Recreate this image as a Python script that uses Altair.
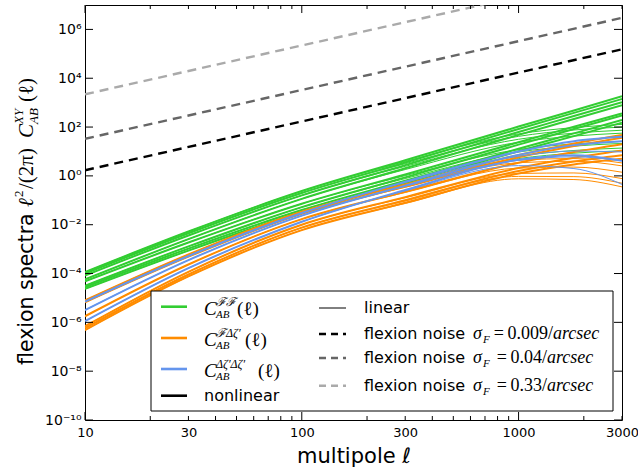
import altair as alt
import pandas as pd

# ---------------- data (log10 of l^2/(2pi) C(l)) ----------------
ELL = [10, 30, 100, 300, 1000, 1800, 3000]

GREEN_NL = [
    [-3.94, -2.28, -0.62, 0.64, 2.02, 2.68, 3.26],
    [-4.00, -2.35, -0.70, 0.55, 1.92, 2.58, 3.15],
    [-4.08, -2.44, -0.80, 0.44, 1.80, 2.45, 3.02],
    [-4.24, -2.59, -0.94, 0.31, 1.68, 2.33, 2.90],
    [-4.32, -2.73, -1.14, 0.06, 1.38, 2.01, 2.56],
    [-4.50, -2.89, -1.28, -0.06, 1.28, 1.92, 2.48],
    [-4.56, -2.98, -1.40, -0.20, 1.11, 1.74, 2.29],
    [-4.63, -3.06, -1.49, -0.30, 1.01, 1.63, 2.18],
]
GREEN_L = [
    [-3.94, -2.28, -0.62, 0.59, 1.72, 1.98, 2.11],
    [-4.00, -2.35, -0.70, 0.50, 1.62, 1.88, 2.00],
    [-4.08, -2.44, -0.80, 0.39, 1.50, 1.75, 1.87],
    [-4.24, -2.59, -0.94, 0.26, 1.38, 1.63, 1.75],
    [-4.32, -2.73, -1.14, 0.01, 1.08, 1.31, 1.41],
    [-4.50, -2.89, -1.28, -0.11, 0.98, 1.22, 1.33],
    [-4.56, -2.98, -1.40, -0.25, 0.81, 1.04, 1.14],
    [-4.63, -3.06, -1.49, -0.35, 0.71, 0.93, 1.03],
]
ORANGE_NL = [
    [-5.10, -3.22, -1.47, -0.35, 0.86, 1.33, 1.68],
    [-5.18, -3.31, -1.55, -0.44, 0.76, 1.22, 1.56],
    [-5.75, -3.63, -1.77, -0.65, 0.54, 0.98, 1.30],
    [-6.16, -3.93, -2.00, -0.87, 0.32, 0.74, 1.04],
    [-6.24, -4.04, -2.12, -1.00, 0.20, 0.59, 0.85],
    [-6.32, -4.12, -2.22, -1.10, 0.10, 0.47, 0.70],
]
ORANGE_L = [
    [-5.10, -3.22, -1.47, -0.38, 0.64, 0.71, 0.53],
    [-5.18, -3.31, -1.55, -0.47, 0.54, 0.60, 0.41],
    [-5.75, -3.63, -1.77, -0.68, 0.32, 0.36, 0.15],
    [-6.16, -3.93, -2.00, -0.90, 0.10, 0.12, -0.11],
    [-6.24, -4.04, -2.12, -1.03, -0.02, -0.03, -0.30],
    [-6.32, -4.12, -2.22, -1.13, -0.12, -0.15, -0.45],
]
BLUE_NL = [
    [-5.15, -3.28, -1.52, -0.24, 1.00, 1.42, 1.60],
    [-5.50, -3.45, -1.63, -0.40, 0.86, 1.26, 1.42],
    [-5.95, -3.78, -1.88, -0.58, 0.66, 0.85, 0.62],
]
BLUE_L = [
    [-5.15, -3.28, -1.52, -0.27, 0.80, 1.02, 0.98],
    [-5.50, -3.45, -1.63, -0.43, 0.64, 0.78, 0.62],
    [-5.95, -3.78, -1.88, -0.61, 0.42, 0.30, -0.35],
]

NOISE_ELL = [10, 3000]
NOISE_BLACK = [1.7, 1.53e5]
NOISE_DGRAY = [33.0, 2.97e6]
NOISE_LGRAY = [2200.0, 1.98e8]

X_LABELS = [10, 30, 100, 300, 1000, 3000]
Y_LABELS = [1e-10, 1e-8, 1e-6, 1e-4, 1e-2, 1e0, 1e2, 1e4, 1e6]
X_MAJOR = [10, 100, 1000]
X_MINOR = [20, 30, 40, 50, 60, 70, 80, 90, 200, 300, 400, 500, 600, 700, 800, 900, 2000, 3000]

GREEN, ORANGE, BLUE = "#32cd32", "#ff8c00", "#6495ed"
W, H = 537, 415

# ---------------- scales / encodings ----------------
xs = alt.Scale(type="log", domain=[10, 3000], nice=False)
ys = alt.Scale(type="log", domain=[1e-10, 1e7], nice=False)

x_axis = alt.Axis(values=X_LABELS, format="d", ticks=False, domain=False, grid=False,
                  labelFont="DejaVu Sans", labelFontSize=13, labelColor="black",
                  labelPadding=6, labelFlush=False, labelOverlap=False,
                  title="multipole ℓ", titleFont="DejaVu Sans", titleFontSize=21,
                  titleFontWeight="normal", titleColor="black",
                  titleBaseline="alphabetic", titleY=42)
y_expr = ("datum.value < 1e-9 ? '10⁻¹⁰' : datum.value < 1e-7 ? '10⁻⁸' : "
          "datum.value < 1e-5 ? '10⁻⁶' : datum.value < 1e-3 ? '10⁻⁴' : "
          "datum.value < 0.1 ? '10⁻²' : datum.value < 10 ? '10⁰' : "
          "datum.value < 1000 ? '10²' : datum.value < 1e5 ? '10⁴' : '10⁶'")
y_axis = alt.Axis(values=Y_LABELS, labelExpr=y_expr, ticks=False, domain=False, grid=False,
                  labelFont="DejaVu Sans", labelFontSize=14, labelColor="black",
                  labelPadding=4, labelFlush=False, labelOverlap=False, title=None)

X = alt.X("ell:Q", scale=xs, axis=x_axis)
Y = alt.Y("val:Q", scale=ys, axis=y_axis)


def curves_df(prefix, curves):
    rows = []
    for i, c in enumerate(curves):
        for e, v in zip(ELL, c):
            rows.append({"ell": e, "val": 10 ** v, "curve": f"{prefix}{i}"})
    return pd.DataFrame(rows)


def curve_layer(prefix, curves, color, width):
    return alt.Chart(curves_df(prefix, curves)).mark_line(
        color=color, strokeWidth=width, interpolate="monotone", clip=True
    ).encode(x=X, y=Y, detail="curve:N")


def noise_layer(vals, color):
    df = pd.DataFrame({"ell": NOISE_ELL, "val": vals})
    return alt.Chart(df).mark_line(color=color, strokeWidth=2.4, strokeDash=[9, 6],
                                   clip=True).encode(x=X, y=Y)


layers = [
    curve_layer("gn", GREEN_NL, GREEN, 2.0),
    curve_layer("gl", GREEN_L, GREEN, 1.0),
    curve_layer("on", ORANGE_NL, ORANGE, 2.0),
    curve_layer("ol", ORANGE_L, ORANGE, 1.0),
    curve_layer("bn", BLUE_NL, BLUE, 2.0),
    curve_layer("bl", BLUE_L, BLUE, 1.0),
    noise_layer(NOISE_BLACK, "black"),
    noise_layer(NOISE_DGRAY, "#666666"),
    noise_layer(NOISE_LGRAY, "#aaaaaa"),
]

# ---------------- inward ticks on all four sides ----------------
xt_major = pd.DataFrame({"ell": X_MAJOR})
xt_minor = pd.DataFrame({"ell": X_MINOR})
yt = pd.DataFrame({"val": Y_LABELS})
for df, L in [(xt_major, 8), (xt_minor, 4)]:
    layers.append(alt.Chart(df).mark_rule(color="black", strokeWidth=1).encode(
        x=X, y=alt.value(H), y2=alt.value(H - L)))
    layers.append(alt.Chart(df).mark_rule(color="black", strokeWidth=1).encode(
        x=X, y=alt.value(0), y2=alt.value(L)))
layers.append(alt.Chart(yt).mark_rule(color="black", strokeWidth=1).encode(
    y=Y, x=alt.value(0), x2=alt.value(8)))
layers.append(alt.Chart(yt).mark_rule(color="black", strokeWidth=1).encode(
    y=Y, x=alt.value(W - 8), x2=alt.value(W)))


# ---------------- text helpers ----------------
def txt(s, x, y, size, font="DejaVu Sans", style="normal", align="left",
        baseline="alphabetic", angle=0):
    return alt.Chart(pd.DataFrame({"t": [s]})).mark_text(
        font=font, fontSize=size, fontStyle=style, align=align, baseline=baseline,
        angle=angle, color="black"
    ).encode(x=alt.value(x), y=alt.value(y), text="t:N")


SERIF = "Liberation Serif"

# y-axis title built from pieces (rotated)
layers += [
    txt("flexion spectra", -52, 360, 20.5, angle=270),
    txt("ℓ", -52, 202, 21, SERIF, "italic", angle=270),
    txt("2", -62, 192, 13, SERIF, angle=270),
    txt("/(2π)", -52, 184, 21, SERIF, angle=270),
    txt("C", -52, 133, 21, SERIF, "italic", angle=270),
    txt("XY", -62, 119, 13, SERIF, "italic", angle=270),
    txt("AB", -47, 119, 13, SERIF, "italic", angle=270),
    txt("(ℓ)", -52, 97, 21, SERIF, angle=270),
]

# ---------------- legend ----------------
layers.append(alt.Chart(pd.DataFrame({"a": [0]})).mark_rect(
    fill="white", stroke="black", strokeWidth=1).encode(
    x=alt.value(66), x2=alt.value(528), y=alt.value(286), y2=alt.value(406)))


def leg_line(x1, x2, y, color, width, dash=None):
    kw = dict(color=color, strokeWidth=width)
    if dash:
        kw["strokeDash"] = dash
    return alt.Chart(pd.DataFrame({"a": [0]})).mark_rule(**kw).encode(
        x=alt.value(x1), x2=alt.value(x2), y=alt.value(y))


left_rows = [301.7, 333, 364, 390.7]
left_items = [
    (GREEN, "ℱℱ", 152),
    (ORANGE, "ℱΔζ′", 160),
    (BLUE, "Δζ′Δζ′", 173),
]
for (col, sup, px), yr in zip(left_items, left_rows[:3]):
    layers += [
        leg_line(76, 102, yr, col, 2.6),
        txt("C", 119, yr + 8, 19, SERIF, "italic"),
        txt(sup, 131, yr - 1, 12, SERIF, "italic"),
        txt("AB", 131, yr + 11, 11, SERIF, "italic"),
        txt("(ℓ)", px, yr + 8, 19, SERIF),
    ]
layers += [
    leg_line(76, 102, left_rows[3], "black", 2.6),
    txt("nonlinear", 119, left_rows[3], 16, baseline="middle"),
]

right_rows = [303, 329, 353, 380.7]
layers += [
    leg_line(234, 261, right_rows[0], "black", 1.0),
    txt("linear", 279, right_rows[0], 16, baseline="middle"),
]
noise_items = [
    ("black", "\u2009=\u20090.009/", 468),
    ("#666666", "\u2009=\u20090.04/", 462),
    ("#aaaaaa", "\u2009=\u20090.33/", 462),
]
for (col, num, ax), yr in zip(noise_items, right_rows[1:]):
    layers += [
        leg_line(234, 261, yr, col, 2.6, [7, 5]),
        txt("flexion noise", 279, yr, 16, baseline="middle"),
        txt("σ", 388, yr + 5, 18, SERIF, "italic"),
        txt("F", 398, yr + 9, 11, SERIF, "italic"),
        txt(num, ax, yr + 5, 18, SERIF, align="right"),
        txt("arcsec", ax, yr + 5, 18, SERIF, "italic"),
    ]

chart = alt.layer(*layers).properties(
    width=W, height=H,
    padding={"left": 85, "top": 5, "right": 16, "bottom": 48},
    autosize=alt.AutoSizeParams(type="none"),
    background="white",
).configure_view(stroke="black", strokeWidth=1)

chart.save("out.html", embed_options={"renderer": "svg", "actions": False})
